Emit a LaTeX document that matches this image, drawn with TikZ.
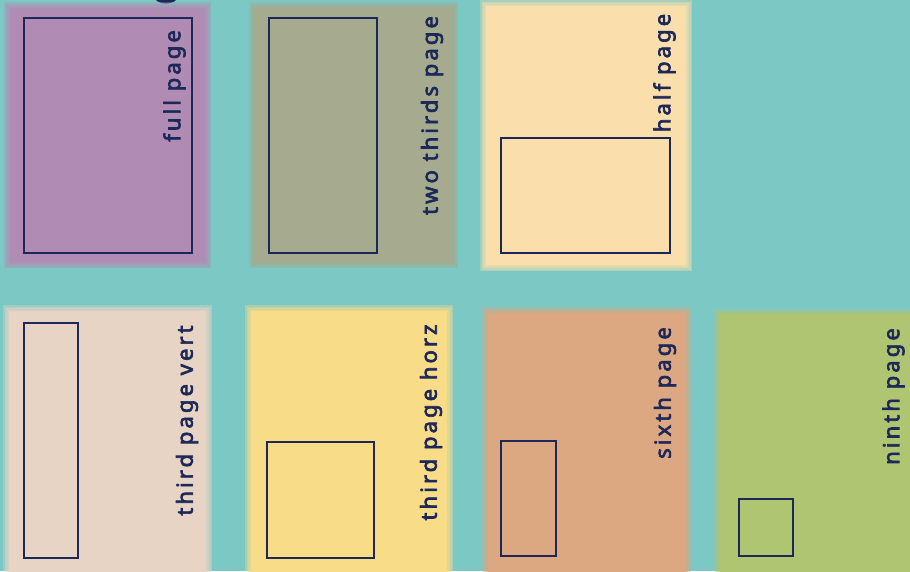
\documentclass[tikz,border=0pt]{standalone}
\usepackage{fontspec}
\newfontfamily\lblfont{Noto Sans}[LetterSpace=14, FakeBold=3]
\definecolor{bg}{HTML}{7BC8C5}
\definecolor{navy}{HTML}{1E2858}
\definecolor{cpurple}{HTML}{B08CB4}
\definecolor{ckhaki}{HTML}{A6AA8E}
\definecolor{cpeach}{HTML}{FADFAD}
\definecolor{clight}{HTML}{E8D4C4}
\definecolor{cyellow}{HTML}{F8DC88}
\definecolor{corange}{HTML}{DBA882}
\definecolor{cgreen}{HTML}{B0C572}
\tikzset{
  lbl/.style={text=navy, font=\lblfont\fontsize{22}{22}\selectfont, rotate=90, inner sep=0pt},
  adbox/.style={draw=navy, line width=1.1pt, inner sep=0pt, outer sep=0pt, anchor=north west},
}
\newcommand{\softpanel}[5]{%
  \foreach \d in {3,1.5,0,-1.5,-3}{%
    \fill[#1, opacity=0.35] (#2-\d,#3-\d) rectangle (#4+\d,#5+\d);
  }%
  \fill[#1] (#2+3,#3+3) rectangle (#4-3,#5-3);
}
\begin{document}
\begin{tikzpicture}[x=1pt,y=-1pt]
\useasboundingbox (0,0) rectangle (910,571);
\clip (0,0) rectangle (910,571);
\fill[bg] (0,0) rectangle (910,571);
% cut-off title glyph at the top
\fill[navy] (166,-4) ellipse (12 and 7.5);
% panels
\softpanel{cpurple}{7}{5}{208}{265}
\softpanel{ckhaki}{252}{5}{455}{265}
\softpanel{cpeach}{483}{3}{689}{268}
\softpanel{clight}{6}{308}{209}{580}
\softpanel{cyellow}{248}{308}{450}{580}
\softpanel{corange}{485}{310}{688}{580}
\softpanel{cgreen}{717}{312}{920}{580}
% ad areas
\node[adbox, minimum width=168pt, minimum height=235pt] (full) at (24,18) {};
\node[adbox, minimum width=108pt, minimum height=235pt] (twothirds) at (269,18) {};
\node[adbox, minimum width=169pt, minimum height=115pt] (half) at (501,138) {};
\node[adbox, minimum width=54pt, minimum height=235pt] (thirdvert) at (24,323) {};
\node[adbox, minimum width=107pt, minimum height=116pt] (thirdhorz) at (267,442) {};
\node[adbox, minimum width=55pt, minimum height=115pt] (sixth) at (501,441) {};
\node[adbox, minimum width=54pt, minimum height=57pt] (ninth) at (739,499) {};
\draw[navy, line width=2pt] (half.south west) -- (half.south east) -- (half.north east);
\draw[navy, line width=2.2pt] (sixth.north west) -- (sixth.north east);
\draw[navy, line width=2.2pt] (sixth.south west) -- (sixth.south east);
% labels
\node[lbl] (tfull) at (174.5,86) {full page};
\node[lbl] (ttwothirds) at (432,115.5) {two thirds page};
\node[lbl] (thalf) at (664.5,73) {half page};
\node[lbl] (tthirdvert) at (187,420.5) {third page vert};
\node[lbl] (tthirdhorz) at (431,422.5) {third page horz};
\node[lbl] (tsixth) at (665,393) {sixth page};
\node[lbl] (tninth) at (893.5,396.5) {ninth page};
\end{tikzpicture}
\end{document}
